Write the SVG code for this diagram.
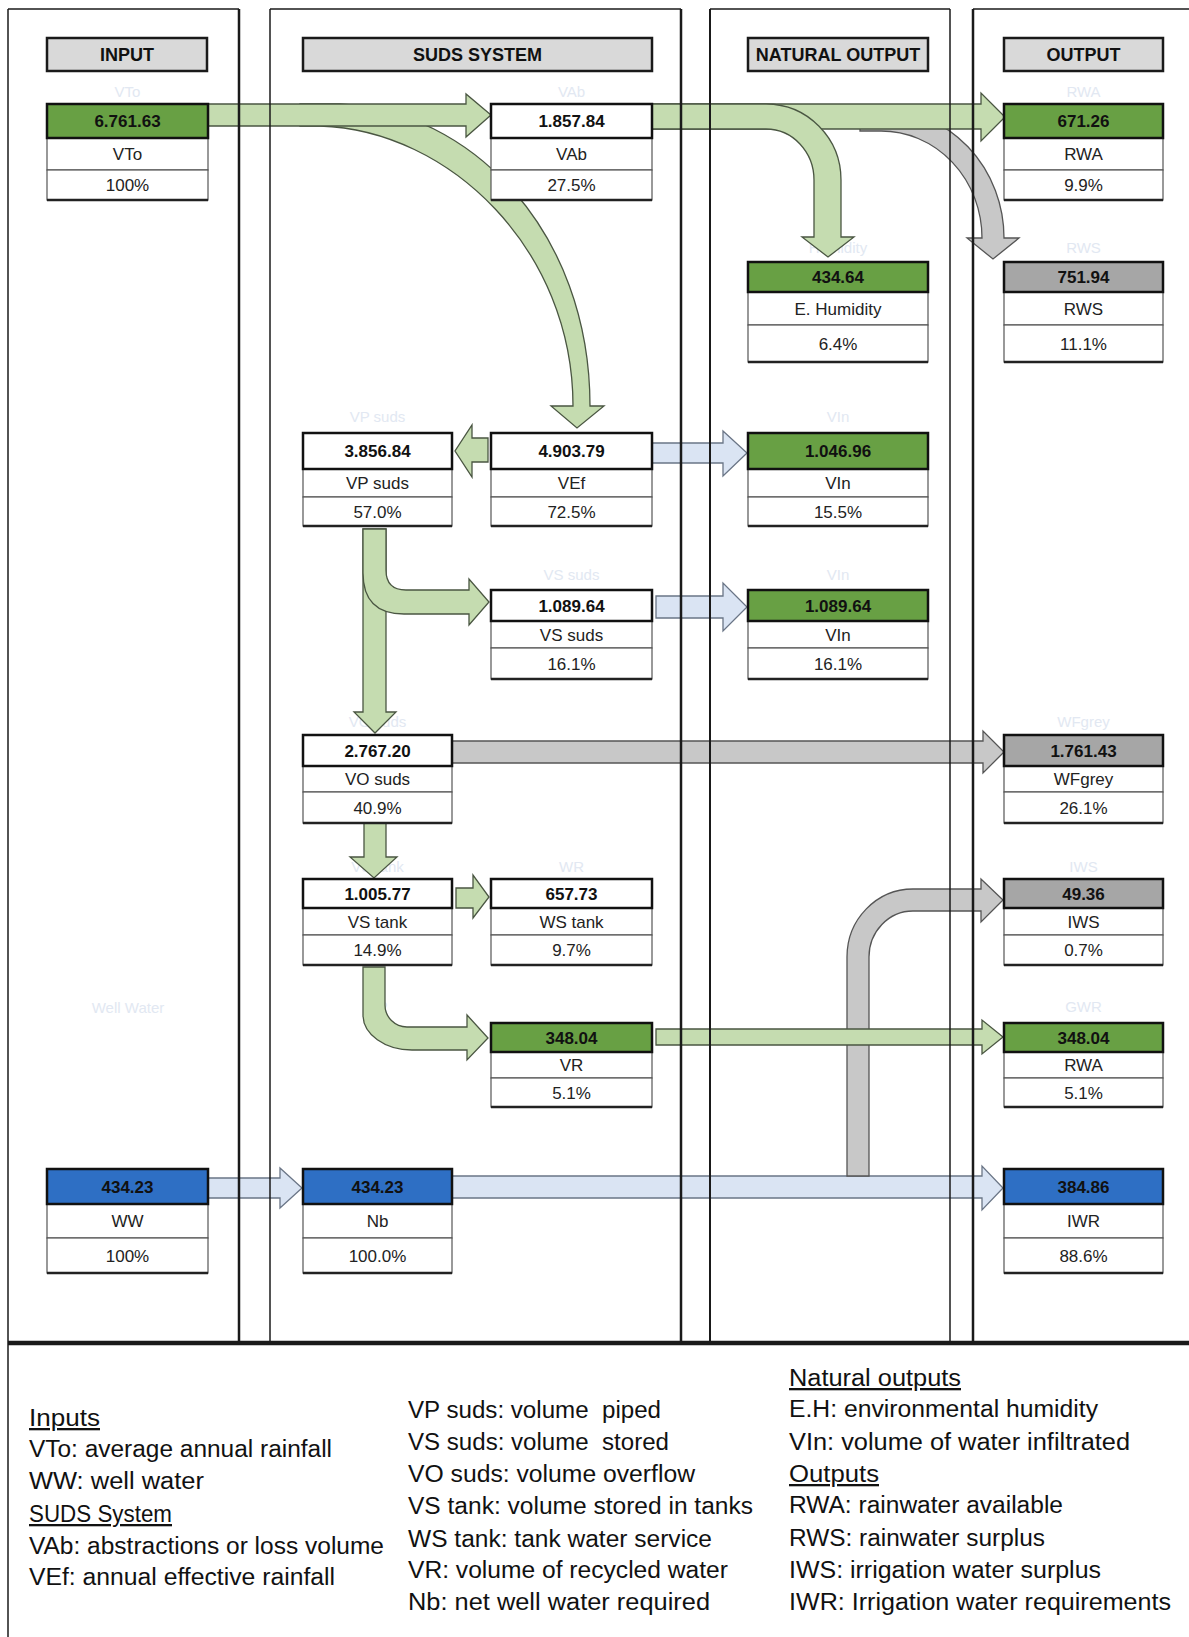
<svg xmlns="http://www.w3.org/2000/svg" width="1189" height="1637" viewBox="0 0 1189 1637">
<style>
.bg{fill:#fff}
.col{stroke:#1a1a1a;fill:none}
.hdr{fill:#d9d9d9;stroke:#1a1a1a;stroke-width:2.5}
.ht{font-family:'Liberation Sans',Arial,sans-serif;font-weight:bold;font-size:18px;text-anchor:middle;fill:#111}
.cell{fill:#fff;stroke:#555;stroke-width:1.2}
.top{stroke:#111;stroke-width:2.5}
.g{fill:#68a044}.w{fill:#fff}.gr{fill:#a6a6a6}.b{fill:#2e6fc4}
.bot{stroke:#222;stroke-width:2.5}
.v{font-family:'Liberation Sans',Arial,sans-serif;font-weight:bold;font-size:17px;text-anchor:middle;fill:#111}
.l{font-family:'Liberation Sans',Arial,sans-serif;font-size:17px;text-anchor:middle;fill:#222}
.f{font-family:'Liberation Sans',Arial,sans-serif;font-size:15px;text-anchor:middle;fill:#e2e8f2}
.ag{fill:#c5dcb0;stroke:#4a5642;stroke-width:1.3}
.ab{fill:#dae4f3;stroke:#6a7586;stroke-width:1.3}
.ay{fill:#c8c8c8;stroke:#555;stroke-width:1.3}
.lg{font-family:'Liberation Sans',Arial,sans-serif;font-size:23px;fill:#111}
.u{text-decoration:underline}
</style>
<rect class="bg" x="0" y="0" width="1189" height="1637"/>

<g id="faded-labels">
<text class="f" x="127.5" y="97">VTo</text>
<text class="f" x="571.5" y="97">VAb</text>
<text class="f" x="1083.5" y="97">RWA</text>
<text class="f" x="838" y="253">Humidity</text>
<text class="f" x="1083.5" y="253">RWS</text>
<text class="f" x="377.5" y="422">VP suds</text>
<text class="f" x="838" y="422">VIn</text>
<text class="f" x="571.5" y="580">VS suds</text>
<text class="f" x="838" y="580">VIn</text>
<text class="f" x="377.5" y="727">VO suds</text>
<text class="f" x="1083.5" y="727">WFgrey</text>
<text class="f" x="377.5" y="872">VS tank</text>
<text class="f" x="571.5" y="872">WR</text>
<text class="f" x="1083.5" y="872">IWS</text>
<text class="f" x="377.5" y="1012">VR</text>
<text class="f" x="1083.5" y="1012">GWR</text>
<text class="f" x="128" y="1013">Well Water</text>
</g>

<g id="connectors">
<path class="ag" d="M300,104 H340 C470,110 590,230 590,406 H604 L577,428 L551,406 H573 C573,250 450,130 320,126 H300 Z"/>
<path class="ag" d="M208,104 H466 V94 L491,115 L466,137 V126 H208 Z"/>
<path class="ay" d="M860,109 H881 A123 129 0 0 1 1004,238 H1019 L993,259 L967,238 H982 A101 107 0 0 0 881,131 H860 Z"/>
<path class="ag" d="M652,104 H981 V93 L1005,117 L981,141 V129 H652 Z"/>
<path class="ag" d="M652,104 H766 A75 76 0 0 1 841,180 V237 H854 L828,257 L802,237 H814 V180 A48 51 0 0 0 766,129 H652 Z"/>
<path class="ag" d="M488,438 H472 V425 L455,451 L472,477 V462 H488 Z"/>
<path class="ab" d="M652,443 H723 V431 L747,453 L723,476 V463 H652 Z"/>
<path class="ab" d="M656,596 H723 V583 L747,607 L723,631 V618 H656 Z"/>
<path class="ag" d="M363,529 H386 V712 H396 L375,733 L354,712 H363 Z"/>
<path class="ag" d="M363,529 H386 V570 Q386,590 406,590 H469 V579 L489,602 L469,625 V614 H404 Q363,614 363,573 Z"/>
<path class="ag" d="M364,823 H386 V857 H397 L374,878 L350,857 H364 Z"/>
<path class="ag" d="M456,888 H473 V875 L489,897 L473,918 V908 H456 Z"/>
<path class="ag" d="M363,967 H385 V1005 A22 22 0 0 0 407,1027 H467 V1015 L488,1038 L467,1060 V1050 H412 A49 35 0 0 1 363,1015 Z"/>
<path class="ay" d="M452,741 H983 V731 L1004,752 L983,773 V763 H452 Z"/>
<path class="ab" d="M452,1176 H982 V1166 L1003,1188 L982,1210 V1198 H452 Z"/>
<path class="ay" d="M847,1176 V957 A66 68 0 0 1 913,889 H981 V879 L1003,900 L981,922 V911 H913 A44 46 0 0 0 869,957 V1176 Z"/>
<path class="ag" d="M656,1029 H982 V1020 L1003,1037 L982,1054 V1045 H656 Z"/>
<path class="ab" d="M208,1178 H280 V1168 L302,1188 L280,1208 V1198 H208 Z"/>
</g>

<g id="columns">
<line class="col" stroke-width="1.5" x1="8" y1="9" x2="239" y2="9"/>
<line class="col" stroke-width="1.5" x1="270" y1="9" x2="681" y2="9"/>
<line class="col" stroke-width="1.5" x1="710" y1="9" x2="950" y2="9"/>
<line class="col" stroke-width="1.5" x1="973" y1="9" x2="1189" y2="9"/>
<line class="col" stroke-width="1.5" x1="8" y1="9" x2="8" y2="1637"/>
<line class="col" stroke-width="2.5" x1="239" y1="9" x2="239" y2="1342"/>
<line class="col" stroke-width="1.5" x1="270" y1="9" x2="270" y2="1342"/>
<line class="col" stroke-width="2.5" x1="681" y1="9" x2="681" y2="1342"/>
<line class="col" stroke-width="2" x1="710" y1="9" x2="710" y2="1342"/>
<line class="col" stroke-width="1.5" x1="950" y1="9" x2="950" y2="1342"/>
<line class="col" stroke-width="2.5" x1="973" y1="9" x2="973" y2="1342"/>
<line class="col" stroke-width="4.5" x1="8" y1="1343" x2="1189" y2="1343"/>
</g>

<g id="headers">
<rect class="hdr" x="47" y="38" width="160" height="33"/>
<text class="ht" x="127" y="61">INPUT</text>
<rect class="hdr" x="303" y="38" width="349" height="33"/>
<text class="ht" x="477.5" y="61">SUDS SYSTEM</text>
<rect class="hdr" x="748" y="38" width="180" height="33"/>
<text class="ht" x="838" y="61">NATURAL OUTPUT</text>
<rect class="hdr" x="1004" y="38" width="159" height="33"/>
<text class="ht" x="1083.5" y="61">OUTPUT</text>
</g>

<g id="node-VTo">
<rect class="cell" x="47" y="138" width="161" height="32"/><rect class="cell" x="47" y="170" width="161" height="30"/>
<line class="bot" x1="47" y1="200" x2="208" y2="200"/>
<rect class="top g" x="47" y="104" width="161" height="34"/>
<text class="v" x="127.5" y="127">6.761.63</text><text class="l" x="127.5" y="160">VTo</text><text class="l" x="127.5" y="191">100%</text>
</g>
<g id="node-VAb">
<rect class="cell" x="491" y="138" width="161" height="32"/><rect class="cell" x="491" y="170" width="161" height="30"/>
<line class="bot" x1="491" y1="200" x2="652" y2="200"/>
<rect class="top w" x="491" y="104" width="161" height="34"/>
<text class="v" x="571.5" y="127">1.857.84</text><text class="l" x="571.5" y="160">VAb</text><text class="l" x="571.5" y="191">27.5%</text>
</g>
<g id="node-RWA1">
<rect class="cell" x="1004" y="138" width="159" height="32"/><rect class="cell" x="1004" y="170" width="159" height="30"/>
<line class="bot" x1="1004" y1="200" x2="1163" y2="200"/>
<rect class="top g" x="1004" y="104" width="159" height="34"/>
<text class="v" x="1083.5" y="127">671.26</text><text class="l" x="1083.5" y="160">RWA</text><text class="l" x="1083.5" y="191">9.9%</text>
</g>
<g id="node-EH">
<rect class="cell" x="748" y="292" width="180" height="33"/><rect class="cell" x="748" y="325" width="180" height="37"/>
<line class="bot" x1="748" y1="362" x2="928" y2="362"/>
<rect class="top g" x="748" y="262" width="180" height="30"/>
<text class="v" x="838" y="283">434.64</text><text class="l" x="838" y="314.5">E. Humidity</text><text class="l" x="838" y="349.5">6.4%</text>
</g>
<g id="node-RWS">
<rect class="cell" x="1004" y="292" width="159" height="33"/><rect class="cell" x="1004" y="325" width="159" height="37"/>
<line class="bot" x1="1004" y1="362" x2="1163" y2="362"/>
<rect class="top gr" x="1004" y="262" width="159" height="30"/>
<text class="v" x="1083.5" y="283">751.94</text><text class="l" x="1083.5" y="314.5">RWS</text><text class="l" x="1083.5" y="349.5">11.1%</text>
</g>
<g id="node-VPsuds">
<rect class="cell" x="303" y="469" width="149" height="28"/><rect class="cell" x="303" y="497" width="149" height="29"/>
<line class="bot" x1="303" y1="526" x2="452" y2="526"/>
<rect class="top w" x="303" y="433" width="149" height="36"/>
<text class="v" x="377.5" y="457">3.856.84</text><text class="l" x="377.5" y="489">VP suds</text><text class="l" x="377.5" y="517.5">57.0%</text>
</g>
<g id="node-VEf">
<rect class="cell" x="491" y="469" width="161" height="28"/><rect class="cell" x="491" y="497" width="161" height="29"/>
<line class="bot" x1="491" y1="526" x2="652" y2="526"/>
<rect class="top w" x="491" y="433" width="161" height="36"/>
<text class="v" x="571.5" y="457">4.903.79</text><text class="l" x="571.5" y="489">VEf</text><text class="l" x="571.5" y="517.5">72.5%</text>
</g>
<g id="node-VIn1">
<rect class="cell" x="748" y="469" width="180" height="28"/><rect class="cell" x="748" y="497" width="180" height="29"/>
<line class="bot" x1="748" y1="526" x2="928" y2="526"/>
<rect class="top g" x="748" y="433" width="180" height="36"/>
<text class="v" x="838" y="457">1.046.96</text><text class="l" x="838" y="489">VIn</text><text class="l" x="838" y="517.5">15.5%</text>
</g>
<g id="node-VSsuds">
<rect class="cell" x="491" y="621" width="161" height="27"/><rect class="cell" x="491" y="648" width="161" height="31"/>
<line class="bot" x1="491" y1="679" x2="652" y2="679"/>
<rect class="top w" x="491" y="590" width="161" height="31"/>
<text class="v" x="571.5" y="611.5">1.089.64</text><text class="l" x="571.5" y="640.5">VS suds</text><text class="l" x="571.5" y="669.5">16.1%</text>
</g>
<g id="node-VIn2">
<rect class="cell" x="748" y="621" width="180" height="27"/><rect class="cell" x="748" y="648" width="180" height="31"/>
<line class="bot" x1="748" y1="679" x2="928" y2="679"/>
<rect class="top g" x="748" y="590" width="180" height="31"/>
<text class="v" x="838" y="611.5">1.089.64</text><text class="l" x="838" y="640.5">VIn</text><text class="l" x="838" y="669.5">16.1%</text>
</g>
<g id="node-VOsuds">
<rect class="cell" x="303" y="766" width="149" height="26"/><rect class="cell" x="303" y="792" width="149" height="31"/>
<line class="bot" x1="303" y1="823" x2="452" y2="823"/>
<rect class="top w" x="303" y="735" width="149" height="31"/>
<text class="v" x="377.5" y="756.5">2.767.20</text><text class="l" x="377.5" y="785">VO suds</text><text class="l" x="377.5" y="813.5">40.9%</text>
</g>
<g id="node-WFgrey">
<rect class="cell" x="1004" y="766" width="159" height="26"/><rect class="cell" x="1004" y="792" width="159" height="31"/>
<line class="bot" x1="1004" y1="823" x2="1163" y2="823"/>
<rect class="top gr" x="1004" y="735" width="159" height="31"/>
<text class="v" x="1083.5" y="756.5">1.761.43</text><text class="l" x="1083.5" y="785">WFgrey</text><text class="l" x="1083.5" y="813.5">26.1%</text>
</g>
<g id="node-VStank">
<rect class="cell" x="303" y="908" width="149" height="27"/><rect class="cell" x="303" y="935" width="149" height="30"/>
<line class="bot" x1="303" y1="965" x2="452" y2="965"/>
<rect class="top w" x="303" y="879" width="149" height="29"/>
<text class="v" x="377.5" y="899.5">1.005.77</text><text class="l" x="377.5" y="927.5">VS tank</text><text class="l" x="377.5" y="956">14.9%</text>
</g>
<g id="node-WStank">
<rect class="cell" x="491" y="908" width="161" height="27"/><rect class="cell" x="491" y="935" width="161" height="30"/>
<line class="bot" x1="491" y1="965" x2="652" y2="965"/>
<rect class="top w" x="491" y="879" width="161" height="29"/>
<text class="v" x="571.5" y="899.5">657.73</text><text class="l" x="571.5" y="927.5">WS tank</text><text class="l" x="571.5" y="956">9.7%</text>
</g>
<g id="node-IWS">
<rect class="cell" x="1004" y="908" width="159" height="27"/><rect class="cell" x="1004" y="935" width="159" height="30"/>
<line class="bot" x1="1004" y1="965" x2="1163" y2="965"/>
<rect class="top gr" x="1004" y="879" width="159" height="29"/>
<text class="v" x="1083.5" y="899.5">49.36</text><text class="l" x="1083.5" y="927.5">IWS</text><text class="l" x="1083.5" y="956">0.7%</text>
</g>
<g id="node-VR">
<rect class="cell" x="491" y="1052" width="161" height="26"/><rect class="cell" x="491" y="1078" width="161" height="29"/>
<line class="bot" x1="491" y1="1107" x2="652" y2="1107"/>
<rect class="top g" x="491" y="1023" width="161" height="29"/>
<text class="v" x="571.5" y="1043.5">348.04</text><text class="l" x="571.5" y="1071">VR</text><text class="l" x="571.5" y="1098.5">5.1%</text>
</g>
<g id="node-RWA2">
<rect class="cell" x="1004" y="1052" width="159" height="26"/><rect class="cell" x="1004" y="1078" width="159" height="29"/>
<line class="bot" x1="1004" y1="1107" x2="1163" y2="1107"/>
<rect class="top g" x="1004" y="1023" width="159" height="29"/>
<text class="v" x="1083.5" y="1043.5">348.04</text><text class="l" x="1083.5" y="1071">RWA</text><text class="l" x="1083.5" y="1098.5">5.1%</text>
</g>
<g id="node-WW">
<rect class="cell" x="47" y="1204" width="161" height="34"/><rect class="cell" x="47" y="1238" width="161" height="35"/>
<line class="bot" x1="47" y1="1273" x2="208" y2="1273"/>
<rect class="top b" x="47" y="1169" width="161" height="35"/>
<text class="v" x="127.5" y="1192.5">434.23</text><text class="l" x="127.5" y="1227">WW</text><text class="l" x="127.5" y="1261.5">100%</text>
</g>
<g id="node-Nb">
<rect class="cell" x="303" y="1204" width="149" height="34"/><rect class="cell" x="303" y="1238" width="149" height="35"/>
<line class="bot" x1="303" y1="1273" x2="452" y2="1273"/>
<rect class="top b" x="303" y="1169" width="149" height="35"/>
<text class="v" x="377.5" y="1192.5">434.23</text><text class="l" x="377.5" y="1227">Nb</text><text class="l" x="377.5" y="1261.5">100.0%</text>
</g>
<g id="node-IWR">
<rect class="cell" x="1004" y="1204" width="159" height="34"/><rect class="cell" x="1004" y="1238" width="159" height="35"/>
<line class="bot" x1="1004" y1="1273" x2="1163" y2="1273"/>
<rect class="top b" x="1004" y="1169" width="159" height="35"/>
<text class="v" x="1083.5" y="1192.5">384.86</text><text class="l" x="1083.5" y="1227">IWR</text><text class="l" x="1083.5" y="1261.5">88.6%</text>
</g>

<g id="legend">
<text class="lg u" x="29" y="1426" textLength="71" lengthAdjust="spacingAndGlyphs">Inputs</text>
<text class="lg" x="29" y="1457" textLength="303" lengthAdjust="spacingAndGlyphs">VTo: average annual rainfall</text>
<text class="lg" x="29" y="1489" textLength="175" lengthAdjust="spacingAndGlyphs">WW: well water</text>
<text class="lg u" x="29" y="1522" textLength="143" lengthAdjust="spacingAndGlyphs">SUDS System</text>
<text class="lg" x="29" y="1554" textLength="355" lengthAdjust="spacingAndGlyphs">VAb: abstractions or loss volume</text>
<text class="lg" x="29" y="1585" textLength="306" lengthAdjust="spacingAndGlyphs">VEf: annual effective rainfall</text>
<text class="lg" x="408" y="1418" textLength="253" lengthAdjust="spacingAndGlyphs" xml:space="preserve">VP suds: volume  piped</text>
<text class="lg" x="408" y="1450" textLength="261" lengthAdjust="spacingAndGlyphs" xml:space="preserve">VS suds: volume  stored</text>
<text class="lg" x="408" y="1482" textLength="287" lengthAdjust="spacingAndGlyphs">VO suds: volume overflow</text>
<text class="lg" x="408" y="1514" textLength="345" lengthAdjust="spacingAndGlyphs">VS tank: volume stored in tanks</text>
<text class="lg" x="408" y="1547" textLength="304" lengthAdjust="spacingAndGlyphs">WS tank: tank water service</text>
<text class="lg" x="408" y="1578" textLength="320" lengthAdjust="spacingAndGlyphs">VR: volume of recycled water</text>
<text class="lg" x="408" y="1610" textLength="302" lengthAdjust="spacingAndGlyphs">Nb: net well water required</text>
<text class="lg u" x="789" y="1386" textLength="172" lengthAdjust="spacingAndGlyphs">Natural outputs</text>
<text class="lg" x="789" y="1417" textLength="309" lengthAdjust="spacingAndGlyphs">E.H: environmental humidity</text>
<text class="lg" x="789" y="1450" textLength="341" lengthAdjust="spacingAndGlyphs">VIn: volume of water infiltrated</text>
<text class="lg u" x="789" y="1482" textLength="90" lengthAdjust="spacingAndGlyphs">Outputs</text>
<text class="lg" x="789" y="1513" textLength="274" lengthAdjust="spacingAndGlyphs">RWA: rainwater available</text>
<text class="lg" x="789" y="1546" textLength="256" lengthAdjust="spacingAndGlyphs">RWS: rainwater surplus</text>
<text class="lg" x="789" y="1578" textLength="312" lengthAdjust="spacingAndGlyphs">IWS: irrigation water surplus</text>
<text class="lg" x="789" y="1610" textLength="382" lengthAdjust="spacingAndGlyphs">IWR: Irrigation water requirements</text>
</g>
</svg>
